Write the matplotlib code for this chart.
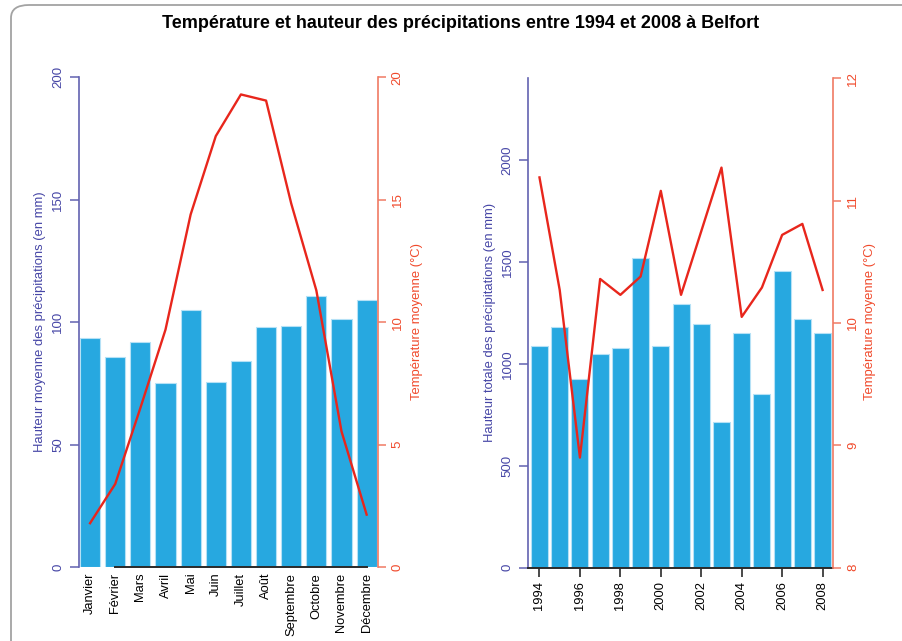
import matplotlib
matplotlib.use("Agg")
import matplotlib.pyplot as plt
from matplotlib.patches import FancyBboxPatch
from matplotlib.lines import Line2D

plt.rcParams["font.family"] = ["Liberation Sans", "DejaVu Sans"]

# Monthly means, Belfort 1994-2008
mois = ["Janvier", "Février", "Mars", "Avril", "Mai", "Juin", "Juillet",
        "Août", "Septembre", "Octobre", "Novembre", "Décembre"]
precip_mois = [93.7, 85.7, 92.0, 75.1, 104.9, 75.5, 84.3, 98.2, 98.6, 110.6, 101.2, 109.0]
temp_mois = [1.8, 3.4, 6.5, 9.7, 14.4, 17.6, 19.3, 19.05, 14.85, 11.3, 5.55, 2.15]

# Yearly totals / means
annees = list(range(1994, 2009))
precip_annee = [1088, 1181, 926, 1046, 1077, 1517, 1085, 1294, 1196, 716, 1150, 851, 1456, 1222, 1152]
temp_annee = [11.19, 10.27, 8.90, 10.36, 10.23, 10.38, 11.08, 10.23, 10.75, 11.27, 10.05, 10.29, 10.72, 10.81, 10.27]

W, H = 902, 641
BAR = "#27a8e0"
BAR_EDGE = "#b5e1f6"
LINE = "#e8261c"
BLUE_TXT = "#4646a6"
BLUE_AX = "#6262b0"
RED_TXT = "#f04a2c"
RED_AX = "#f07a64"
FS = 9.5
FS_LAB = 9.4


def px_rect(x0, y0, x1, y1):
    return [x0 / W, 1 - y1 / H, (x1 - x0) / W, (y1 - y0) / H]


fig = plt.figure(figsize=(W / 100, H / 100), dpi=100)

# rounded frame
frame = FancyBboxPatch((11 / W, -0.05), 1.2, 1 - 5 / H + 0.05,
                       boxstyle="round,pad=0,rounding_size=0.02",
                       transform=fig.transFigure, fill=False,
                       edgecolor="#a3a3a3", linewidth=1.3)
fig.patches.append(frame)

fig.text(461 / W, 1 - 23 / H,
         "Température et hauteur des précipitations entre 1994 et 2008 à Belfort",
         ha="center", va="center", fontsize=13, fontweight="bold", color="black")


def style_left(ax):
    for s in ("top", "right", "bottom"):
        ax.spines[s].set_visible(False)
    ax.spines["left"].set_color(BLUE_AX)
    ax.spines["left"].set_linewidth(1.2)
    ax.tick_params(axis="y", colors=BLUE_AX, labelcolor=BLUE_TXT, length=6.5,
                   width=1.1, labelsize=FS, pad=4)
    for t in ax.get_yticklabels():
        t.set_rotation(90)
        t.set_va("center")


def style_right(ax):
    for s in ("top", "left", "bottom"):
        ax.spines[s].set_visible(False)
    ax.spines["right"].set_color(RED_AX)
    ax.spines["right"].set_linewidth(1.2)
    ax.tick_params(axis="y", colors=RED_AX, labelcolor=RED_TXT, length=6,
                   width=1.1, labelsize=FS, pad=4)
    for t in ax.get_yticklabels():
        t.set_rotation(90)
        t.set_va("center")


# ---------- monthly panel ----------
ax1 = fig.add_axes(px_rect(79, 77.3, 377.7, 567.3))
x1 = list(range(len(mois)))
ax1.bar(x1, precip_mois, width=0.805, color=BAR, edgecolor=BAR_EDGE, linewidth=0.8)
ax1.set_xlim(-0.44, 11.44)
ax1.set_ylim(0, 200)
ax1.set_yticks([0, 50, 100, 150, 200])
ax1.set_xticks(x1)
ax1.set_xticklabels(mois, rotation=90, fontsize=9.3, va="top", ha="center")
ax1.tick_params(axis="x", length=0, pad=4)
style_left(ax1)
ax1.add_line(Line2D([1, 11], [0, 0], color="#2a2a2a", linewidth=1.4,
                    clip_on=False, zorder=5))

ax1t = ax1.twinx()
ax1t.plot(x1, temp_mois, color=LINE, linewidth=1.7)
ax1t.set_ylim(0, 20)
ax1t.set_yticks([0, 5, 10, 15, 20])
ax1t.set_xlim(-0.44, 11.44)
style_right(ax1t)

fig.text(40 / W, 1 - 322 / H, "Hauteur moyenne des précipitations (en mm)",
         rotation=90, ha="center", va="center", fontsize=FS_LAB, color=BLUE_TXT)
fig.text(417 / W, 1 - 322 / H, "Température moyenne (°C)",
         rotation=90, ha="center", va="center", fontsize=FS_LAB, color=RED_TXT)

# ---------- yearly panel ----------
ax2 = fig.add_axes(px_rect(528.3, 78.3, 833.3, 567.7))
x2 = list(range(len(annees)))
ax2.bar(x2, precip_annee, width=0.84, color=BAR, edgecolor=BAR_EDGE, linewidth=0.8)
ax2.set_xlim(-0.553, 14.53)
ax2.set_ylim(0, 2400)
ax2.set_yticks([0, 500, 1000, 1500, 2000])
ax2.set_xticks(x2[::2])
ax2.set_xticklabels([str(a) for a in annees[::2]], rotation=90, fontsize=9.3)
ax2.tick_params(axis="x", length=6.5, width=1.2, color="#2a2a2a", pad=3)
style_left(ax2)
ax2.spines["bottom"].set_visible(True)
ax2.spines["bottom"].set_color("#2a2a2a")
ax2.spines["bottom"].set_linewidth(1.4)

ax2t = ax2.twinx()
ax2t.plot(x2, temp_annee, color=LINE, linewidth=1.7)
ax2t.set_ylim(8, 12)
ax2t.set_yticks([8, 9, 10, 11, 12])
ax2t.set_xlim(-0.553, 14.53)
style_right(ax2t)

fig.text(489.5 / W, 1 - 322 / H, "Hauteur totale des précipitations (en mm)",
         rotation=90, ha="center", va="center", fontsize=FS_LAB, color=BLUE_TXT)
fig.text(869.5 / W, 1 - 322 / H, "Température moyenne (°C)",
         rotation=90, ha="center", va="center", fontsize=FS_LAB, color=RED_TXT)

fig.savefig("out.png", dpi=100)
